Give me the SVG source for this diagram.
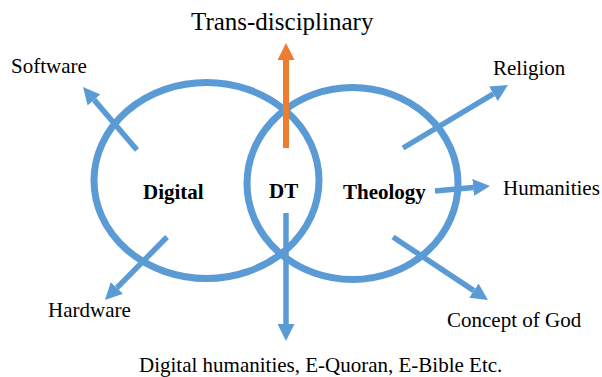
<svg xmlns="http://www.w3.org/2000/svg" width="602" height="377" viewBox="0 0 602 377">
  <style>
    .ring { fill: none; stroke: #5B9BD5; stroke-width: 7; }
    .lbl { font-family: 'Liberation Serif', 'Times New Roman', Times, 'DejaVu Serif', serif; font-size: 21px; fill: #000; }
    .bold { font-weight: bold; }
    .title { font-size: 25px; }
    .blue { stroke: #5B9BD5; stroke-width: 5.5; fill: none; }
    .orange { stroke: #ED7D31; stroke-width: 6; fill: none; }
  </style>
  <defs>
    <marker id="headBlue" viewBox="0 0 17 17" refX="0" refY="8.5" markerWidth="17" markerHeight="17" markerUnits="userSpaceOnUse" orient="auto">
      <path d="M0,0 L17,8.5 L0,17 z" fill="#5B9BD5"/>
    </marker>
    <marker id="headOrange" viewBox="0 0 17 17" refX="0" refY="8.5" markerWidth="17" markerHeight="17" markerUnits="userSpaceOnUse" orient="auto">
      <path d="M0,0 L17,8.5 L0,17 z" fill="#ED7D31"/>
    </marker>
  </defs>
  <rect width="602" height="377" fill="#fff"/>

  <g id="node-digital">
    <ellipse class="ring" cx="206.5" cy="180.5" rx="112.5" ry="98"/>
  </g>
  <g id="node-theology">
    <ellipse class="ring" cx="352.5" cy="183.5" rx="105.5" ry="96"/>
  </g>

  <g id="connectors">
    <line class="blue" x1="137" y1="150" x2="94.1" y2="99.9" marker-end="url(#headBlue)"/>
    <line class="blue" x1="403" y1="148" x2="493.4" y2="93.8" marker-end="url(#headBlue)"/>
    <line class="blue" x1="435" y1="191" x2="473.1" y2="187.5" marker-end="url(#headBlue)"/>
    <line class="blue" x1="167" y1="237" x2="116.9" y2="287.9" marker-end="url(#headBlue)"/>
    <line class="blue" x1="286" y1="213" x2="286" y2="324" marker-end="url(#headBlue)"/>
    <line class="blue" x1="393" y1="237" x2="473.8" y2="290.6" marker-end="url(#headBlue)"/>
    <line class="orange" x1="286" y1="148" x2="286" y2="60" marker-end="url(#headOrange)"/>
  </g>

  <g id="node-digital-label"><text class="lbl bold" x="143" y="199" font-family="Liberation Serif, serif">Digital</text></g>
  <g id="node-dt"><text class="lbl bold" x="269" y="198">DT</text></g>
  <g id="node-theology-label"><text class="lbl bold" x="343" y="199">Theology</text></g>

  <g id="node-trans"><text class="lbl title" x="191" y="30">Trans-disciplinary</text></g>
  <g id="node-software"><text class="lbl" x="11" y="73">Software</text></g>
  <g id="node-religion"><text class="lbl" x="493" y="75">Religion</text></g>
  <g id="node-humanities"><text class="lbl" x="503" y="195">Humanities</text></g>
  <g id="node-hardware"><text class="lbl" x="48" y="317">Hardware</text></g>
  <g id="node-god"><text class="lbl" x="447" y="327">Concept of God</text></g>
  <g id="node-digital-humanities"><text class="lbl" x="139" y="372">Digital humanities, E-Quoran, E-Bible Etc.</text></g>
</svg>
